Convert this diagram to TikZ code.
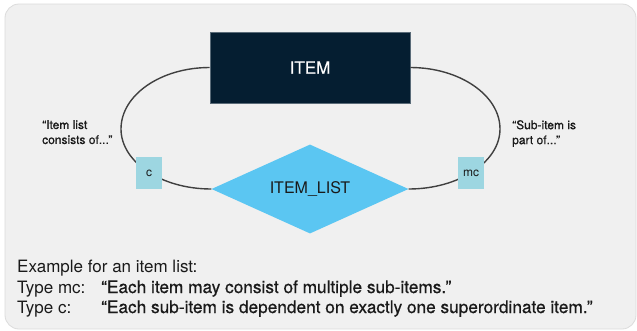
\documentclass[tikz,border=0pt]{standalone}
\usepackage{fontspec}
\setmainfont{TeX Gyre Heros}
\newfontfamily\heavier[FakeBold=0.6]{TeX Gyre Heros}
\usetikzlibrary{shapes.geometric}
\definecolor{panelbg}{HTML}{F0F0F0}
\definecolor{panelrim}{HTML}{DCDCDC}
\definecolor{navy}{HTML}{051E31}
\definecolor{navyrim}{HTML}{5A6B78}
\definecolor{sky}{HTML}{5BC6F2}
\definecolor{cardfill}{HTML}{9DD6E1}
\definecolor{linkgray}{HTML}{404040}
\definecolor{ink}{HTML}{1A1A1A}

\begin{document}
\begin{tikzpicture}[x=1pt,y=-1pt,
  entity/.style={draw=navyrim, line width=0.6pt, fill=navy, text=white,
    minimum width=200pt, minimum height=71pt, inner sep=0pt,
    font=\heavier\fontsize{17}{20}\selectfont},
  relation/.style={diamond, fill=sky, text=ink, aspect=2.2,
    minimum width=197pt, minimum height=89pt, inner sep=0pt,
    font=\fontsize{16}{20}\selectfont},
  card/.style={fill=cardfill, text=ink, minimum width=26pt, minimum height=32pt,
    inner sep=0pt, font=\fontsize{12}{14}\selectfont},
  link/.style={draw=linkgray, line width=1.4pt},
  note/.style={anchor=north west, align=left, inner sep=0pt, text=ink,
    font=\heavier\fontsize{12}{15}\selectfont},
  caption/.style={anchor=base west, inner sep=0pt, text=ink,
    font=\fontsize{17}{20}\selectfont},
  quote/.style={caption, font=\heavier\fontsize{17.25}{20}\selectfont}]

  % page and rounded panel
  \useasboundingbox (0,0) rectangle (637,330);
  \fill[white] (0,0) rectangle (637,330);
  \draw[fill=panelbg, draw=panelrim, line width=0.8pt, rounded corners=14pt]
    (5,4) rectangle (636,329);

  % main shapes
  \node[entity] (item) at (310,67.5) {ITEM};
  \node[relation] (list) at (310,189) {ITEM\_LIST};

  % turning points of the two arcs
  \coordinate (lft) at (121,129);
  \coordinate (rgt) at (500,129);

  % arcs between entity and relationship
  \draw[link] (item.west) .. controls +(-49,0) and +(0,-34) .. (lft)
                          .. controls +(0,33) and +(-50,0) .. (list.west);
  \draw[link] (item.east) .. controls +(49,0) and +(0,-34) .. (rgt)
                          .. controls +(0,33) and +(50,0) .. (list.east);

  % cardinality markers
  \node[card] (cl) at (149,173) {c};
  \node[card] (cr) at (471,173) {mc};

  % side notes
  \node[note] (nl) at (42,120) {“Item list\\consists of...”};
  \node[note] (nr) at (512,120) {“Sub-item is\\part of...”};

  % example text
  \node[caption] (ex) at (17,272) {Example for an item list:};
  \node[caption] (tmc) at (17,293) {Type mc:};
  \node[quote] (qmc) at (101,293) {“Each item may consist of multiple sub-items.”};
  \node[caption] (tc) at (17,313) {Type c:};
  \node[quote] (qc) at (101,313) {“Each sub-item is dependent on exactly one superordinate item.”};
\end{tikzpicture}
\end{document}
